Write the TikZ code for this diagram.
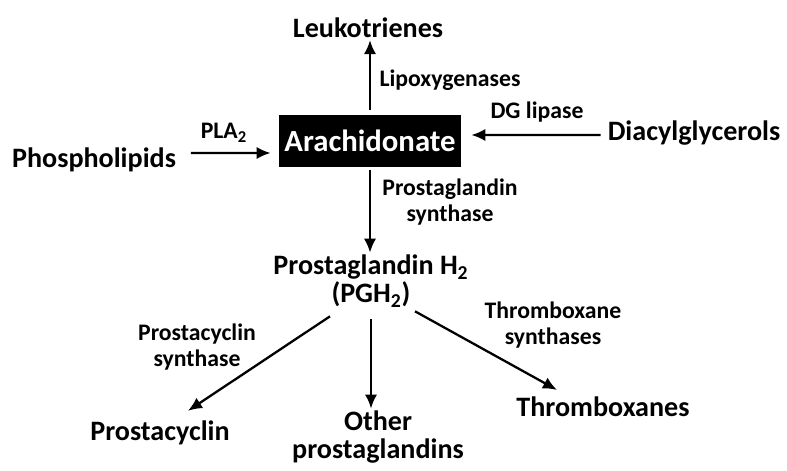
\documentclass[tikz,border=0pt]{standalone}
\usepackage{fontspec}
\setmainfont{Carlito}
\usetikzlibrary{arrows.meta}

\begin{document}
\begin{tikzpicture}[x=0.02cm, y=-0.02cm,
    compound/.style={font=\fontsize{16}{16}\selectfont\bfseries, inner sep=1pt, align=center},
    enzyme/.style={font=\fontsize{13.5}{14.5}\selectfont\bfseries, inner sep=1pt, align=center},
    conv/.style={-{Latex[length=8pt, width=7pt]}, line width=1.3pt}]
  \useasboundingbox (0,0) rectangle (787,470);

  % Substrate und Zwischenprodukt
  \node[compound] (leuk) at (368,28) {Leukotrienes};
  \node[compound, font=\fontsize{17.5}{18}\selectfont\bfseries, fill=black, text=white,
        minimum width=3.64cm, minimum height=1.04cm] (arach) at (370,141) {Arachidonate};
  \node[compound] (phos) at (94,160) {Phospholipids};
  \node[compound] (diac) at (694,133) {Diacylglycerols};
  \node[compound] (pgh) at (371,281) {Prostaglandin H\textsubscript{2}\\(PGH\textsubscript{2})};

  % Endprodukte
  \node[compound] (pcyc) at (160,433) {Prostacyclin};
  \node[compound] (other) at (378,437) {Other\\prostaglandins};
  \node[compound] (thrx) at (603,407) {Thromboxanes};

  % Enzyme
  \node[enzyme] (lipox) at (450,80) {Lipoxygenases};
  \node[enzyme] (pla) at (224,133) {PLA\textsubscript{2}};
  \node[enzyme] (dgl) at (537,112) {DG lipase};
  \node[enzyme] (pgs) at (450,202) {Prostaglandin\\synthase};
  \node[enzyme] (pcs) at (197,347) {Prostacyclin\\synthase};
  \node[enzyme] (txs) at (553,325) {Thromboxane\\synthases};

  % Pfeile
  \draw[conv] ([yshift=0.1cm]arach.north) -- (arach.north |- leuk.south);
  \draw[conv] ([xshift=0.26cm, yshift=0.14cm]phos.east) -- ([xshift=-0.16cm, yshift=-0.24cm]arach.west);
  \draw[conv] ([xshift=-0.1cm, yshift=-0.04cm]diac.west) -- ([xshift=0.2cm, yshift=0.12cm]arach.east);
  \draw[conv] ([yshift=-0.06cm]arach.south) -- (arach.south |- pgh.north);
  \draw[conv] ([xshift=-0.82cm, yshift=-0.14cm]pgh.south) -- ([xshift=0.56cm, yshift=0.16cm]pcyc.north);
  \draw[conv] ([yshift=-0.2cm]pgh.south) -- (pgh.south |- other.north);
  \draw[conv] ([xshift=0.88cm, yshift=-0.04cm]pgh.south) -- ([xshift=-0.92cm, yshift=0.1cm]thrx.north);
\end{tikzpicture}
\end{document}
